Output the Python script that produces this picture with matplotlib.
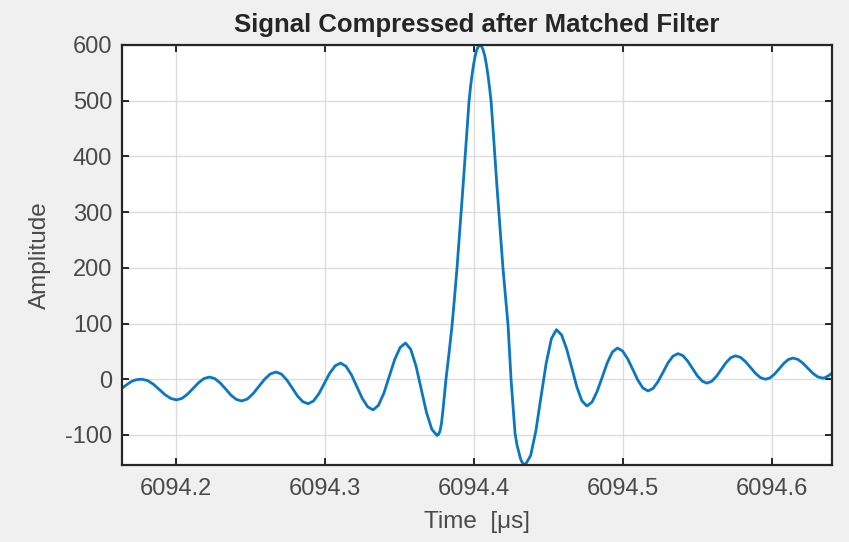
import matplotlib
matplotlib.use("Agg")
import matplotlib.pyplot as plt

plt.rcParams["font.family"] = ["Liberation Sans", "DejaVu Sans"]
plt.rcParams["axes.unicode_minus"] = False

# time axis in microseconds, amplitude of the compressed pulse
time_us = [
    6094.1637, 6094.1660, 6094.1683, 6094.1705, 6094.1728, 6094.1750, 6094.1772,
    6094.1810, 6094.1849, 6094.1888, 6094.1926, 6094.1965, 6094.2003,
    6094.2040, 6094.2077, 6094.2114, 6094.2151, 6094.2188, 6094.2225,
    6094.2261, 6094.2297, 6094.2333, 6094.2368, 6094.2404, 6094.2440,
    6094.2479, 6094.2517, 6094.2556, 6094.2595, 6094.2633, 6094.2672,
    6094.2708, 6094.2744, 6094.2780, 6094.2815, 6094.2851, 6094.2887,
    6094.2923, 6094.2960, 6094.2996, 6094.3032, 6094.3069, 6094.3105,
    6094.3141, 6094.3178, 6094.3214, 6094.3250, 6094.3287, 6094.3323,
    6094.3359, 6094.3396, 6094.3432, 6094.3468, 6094.3505, 6094.3541,
    6094.3576, 6094.3612, 6094.3647, 6094.3682, 6094.3718, 6094.3753,
    6094.3763, 6094.3773, 6094.3783, 6094.3793, 6094.3803, 6094.3813,
    6094.3834, 6094.3854, 6094.3871, 6094.3887, 6094.3901, 6094.3914,
    6094.3928, 6094.3941, 6094.3955, 6094.3968, 6094.3978, 6094.3988,
    6094.3998, 6094.4008, 6094.4018, 6094.4030, 6094.4042,
    6094.4053, 6094.4064, 6094.4075, 6094.4085, 6094.4095, 6094.4105,
    6094.4116, 6094.4129, 6094.4142, 6094.4155, 6094.4169, 6094.4182,
    6094.4196, 6094.4213, 6094.4230, 6094.4240, 6094.4250, 6094.4264,
    6094.4277, 6094.4290, 6094.4304, 6094.4314, 6094.4324, 6094.4335, 6094.4347,
    6094.4382, 6094.4417, 6094.4451, 6094.4486, 6094.4521, 6094.4555,
    6094.4589, 6094.4623, 6094.4658, 6094.4692, 6094.4726, 6094.4760,
    6094.4794, 6094.4828, 6094.4863, 6094.4897, 6094.4931, 6094.4965,
    6094.4999, 6094.5033, 6094.5068, 6094.5102, 6094.5136, 6094.5170,
    6094.5204, 6094.5237, 6094.5271, 6094.5304, 6094.5338, 6094.5371,
    6094.5404, 6094.5436, 6094.5469, 6094.5501, 6094.5534, 6094.5566,
    6094.5598, 6094.5630, 6094.5662, 6094.5694, 6094.5726, 6094.5758,
    6094.5792, 6094.5825, 6094.5859, 6094.5892, 6094.5926, 6094.5959,
    6094.5990, 6094.6021, 6094.6052, 6094.6082, 6094.6113, 6094.6144,
    6094.6177, 6094.6210, 6094.6243, 6094.6276, 6094.6309, 6094.6342,
    6094.6358, 6094.6374, 6094.6390, 6094.6406,
]
amplitude = [
    -16, -11.5, -7, -3.5, -1.2, -0.2, 0,
    -2.5, -9.3, -18.5, -27.8, -34.5, -37,
    -34.3, -26.8, -16.5, -6.3, 1.3, 4,
    1.1, -6.8, -17.5, -28.3, -36.1, -39,
    -35.5, -26, -13, 0, 9.5, 13,
    9.2, -1.3, -15.5, -29.8, -40.2, -44,
    -39.1, -25.8, -7.5, 10.8, 24.1, 29,
    23.4, 8, -13, -34, -49.4, -55,
    -47, -25, 5, 35, 57, 65,
    53.9, 23.5, -18, -59.5, -89.9, -101,
    -99, -93, -79, -55, -28, 0,
    48, 97, 148, 199, 249, 298,
    348, 398, 450, 499, 525, 546,
    564, 579, 590, 597, 600,
    597, 590, 579, 564, 546, 525,
    499, 450, 398, 348, 298, 249,
    199, 148, 97, 48, 0, -50,
    -97, -118, -133, -143, -149, -152, -153,
    -136.8, -92.5, -32, 28.5, 72.8, 89,
    79.8, 54.8, 20.5, -13.8, -38.8, -48,
    -41, -22, 4, 30, 49, 56,
    50.8, 36.8, 17.5, -1.8, -15.8, -21,
    -16.5, -4.3, 12.5, 29.3, 41.5, 46,
    42.4, 32.8, 19.5, 6.3, -3.4, -7,
    -3.7, 5.3, 17.5, 29.8, 38.7, 42,
    39.2, 31.5, 21, 10.5, 2.8, 0,
    2.5, 9.5, 19, 28.5, 35.5, 38,
    35.6, 29, 20, 11, 4.4, 2,
    2.8, 5, 7.8, 11,
]

x_ticks = [6094.2, 6094.3, 6094.4, 6094.5, 6094.6]
x_tick_labels = ["6094.2", "6094.3", "6094.4", "6094.5", "6094.6"]
y_ticks = [-100, 0, 100, 200, 300, 400, 500, 600]

fig = plt.figure(figsize=(8.49, 5.42), dpi=100, facecolor="#f0f0f0")
ax = fig.add_axes([0.1437, 0.142, 0.8363, 0.775])
ax.set_facecolor("white")

ax.plot(time_us, amplitude, color="#0a77c2", linewidth=2.0,
        solid_joinstyle="round", solid_capstyle="round")

ax.set_xlim(6094.1637, 6094.6406)
ax.set_ylim(-154, 600)
ax.set_xticks(x_ticks)
ax.set_xticklabels(x_tick_labels)
ax.set_yticks(y_ticks)

ax.grid(True, color="#dcdcdc", linewidth=1.0)
ax.set_axisbelow(True)
for s in ax.spines.values():
    s.set_color("#262626")
    s.set_linewidth(1.6)
ax.tick_params(direction="in", length=5, width=1.4, color="#262626",
               top=True, right=True, labelsize=17, labelcolor="#4a4a4a")
ax.tick_params(axis="x", pad=9)
ax.tick_params(axis="y", pad=7)

ax.set_title("Signal Compressed after Matched Filter", fontsize=18.5,
             fontweight="bold", color="#262626", pad=9)
ax.set_xlabel("Time  [\u03bcs]", fontsize=17.5, color="#4a4a4a", labelpad=8)
ax.set_ylabel("Amplitude", fontsize=17.5, color="#4a4a4a", labelpad=10)

fig.savefig("out.png", dpi=100, facecolor=fig.get_facecolor())
